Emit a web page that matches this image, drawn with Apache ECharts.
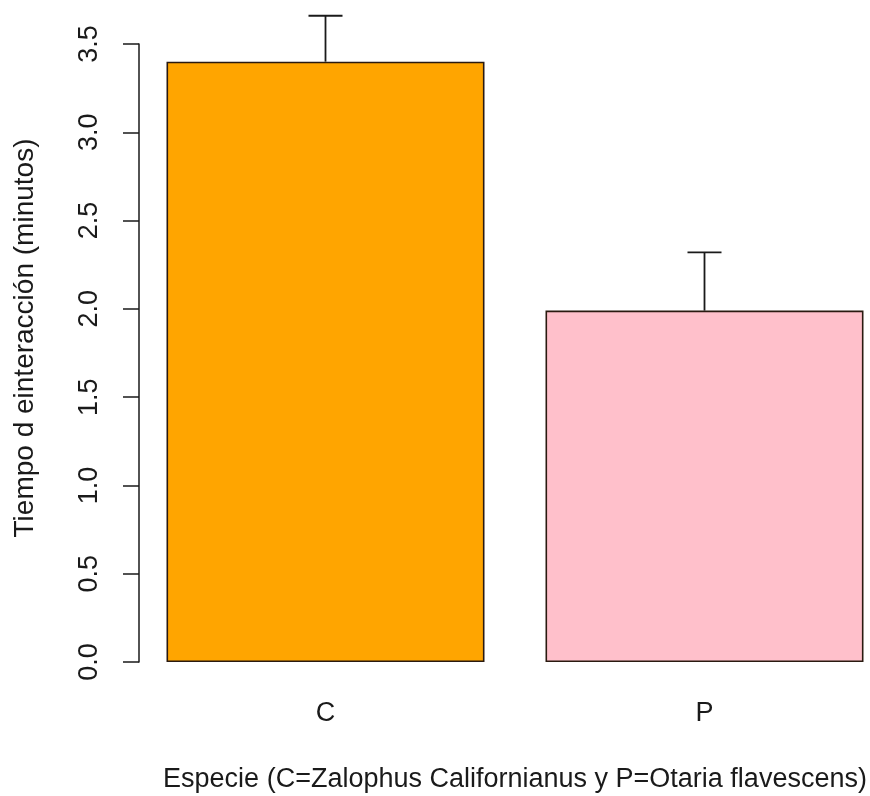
<!DOCTYPE html>
<html>
<head>
<meta charset="utf-8">
<script src="https://cdn.jsdelivr.net/npm/echarts@6/dist/echarts.min.js"></script>
<style>
  html, body { margin: 0; padding: 0; background: #fff; }
  #chart { width: 870px; height: 796px; }
</style>
</head>
<body>
<div id="chart"></div>
<script>
// Species codes on the x axis
const categories = ['C', 'P'];
// Mean interaction time (minutes) per species
const meanMinutes = [3.40, 1.99];
// Upper error (standard error) added on top of each mean
const upperError = [0.26, 0.33];
// Bar fill colours
const barColors = ['#FFA500', '#FFC0CB'];
// Y axis ticks
const yMin = 0;
const yMax = 3.5;
const yStep = 0.5;

const FONT = 'Liberation Sans, Arial, sans-serif';
const FS = 27;
const INK = '#1a1a1a';

const chart = echarts.init(document.getElementById('chart'), null, { renderer: 'canvas' });

const option = {
  backgroundColor: '#ffffff',
  animation: false,
  // plot region runs past the right edge of the canvas
  grid: {
    left: 136, width: 758, top: 44, height: 618,
    containLabel: false,
    outerBoundsMode: 'none'
  },
  xAxis: {
    type: 'category',
    data: categories,
    boundaryGap: true,
    name: 'Especie (C=Zalophus Californianus y P=Otaria flavescens)',
    nameLocation: 'middle',
    nameGap: 104,
    nameTextStyle: { fontFamily: FONT, fontSize: FS, color: INK },
    axisLine: { show: false },
    axisTick: { show: false },
    axisLabel: { fontFamily: FONT, fontSize: FS, color: INK, margin: 38 },
    splitLine: { show: false }
  },
  yAxis: {
    type: 'value',
    min: yMin,
    max: yMax,
    interval: yStep,
    offset: -3,
    name: 'Tiempo d einteracción (minutos)',
    nameLocation: 'middle',
    nameRotate: 90,
    nameGap: 100,
    nameTextStyle: { fontFamily: FONT, fontSize: 28, color: INK, padding: [0, 0, 0, 30] },
    axisLine: { show: true, lineStyle: { color: INK, width: 1.5 } },
    axisTick: { show: true, inside: false, length: 16, lineStyle: { color: INK, width: 1.5 } },
    axisLabel: {
      rotate: 90,
      margin: 36,
      fontFamily: FONT,
      fontSize: FS,
      color: INK,
      formatter: v => v.toFixed(1)
    },
    splitLine: { show: false }
  },
  series: [
    {
      type: 'bar',
      barWidth: 318,
      data: meanMinutes.map((v, i) => ({
        value: v,
        itemStyle: { color: barColors[i], borderColor: '#2a1a10', borderWidth: 1.6 }
      })),
      z: 2
    },
    {
      // Upward error bars with a flat cap
      type: 'custom',
      clip: false,
      z: 3,
      data: meanMinutes.map((v, i) => [i, v, v + upperError[i]]),
      renderItem: function (params, api) {
        const base = api.coord([api.value(0), api.value(1)]);
        const top = api.coord([api.value(0), api.value(2)]);
        const half = 17;
        const style = { stroke: INK, lineWidth: 1.8, fill: null };
        return {
          type: 'group',
          children: [
            { type: 'line', shape: { x1: base[0], y1: base[1], x2: top[0], y2: top[1] }, style },
            { type: 'line', shape: { x1: top[0] - half, y1: top[1], x2: top[0] + half, y2: top[1] }, style }
          ]
        };
      }
    }
  ]
};

chart.setOption(option);
</script>
</body>
</html>
